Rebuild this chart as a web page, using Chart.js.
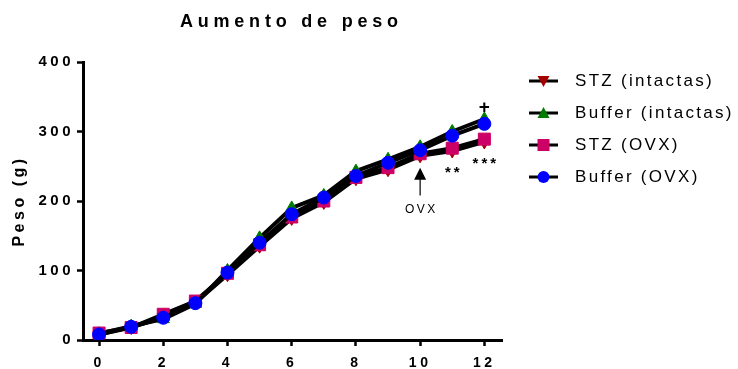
<!DOCTYPE html>
<html lang="es">
<head>
<meta charset="utf-8">
<title>Aumento de peso</title>
<script src="https://cdn.jsdelivr.net/npm/chart.js@4.4.1/dist/chart.umd.min.js"></script>
<style>
  html, body { margin: 0; padding: 0; background: #fff; }
  canvas { display: block; }
</style>
</head>
<body>
<canvas id="grafica" width="738" height="369"></canvas>
<script>
// datos (peso en g por semana)
const semanas = [0, 1, 2, 3, 4, 5, 6, 7, 8, 9, 10, 11, 12];
const ticksX = [0, 2, 4, 6, 8, 10, 12];
const ticksY = [0, 100, 200, 300, 400];

const stzIntactas    = [8, 18, 33, 54, 94, 135, 175, 198, 232, 245, 265, 272, 285];
const bufferIntactas = [9, 20, 30, 52, 100, 147, 190, 208, 243, 260, 278, 300, 318];
const stzOvx         = [10, 18, 37, 56, 96, 137, 177, 200, 234, 248, 268, 276, 289];
const bufferOvx      = [8, 19, 32, 53, 97, 140, 181, 205, 236, 255, 273, 294, 311];

const nombres = ["STZ (intactas)", "Buffer (intactas)", "STZ (OVX)", "Buffer (OVX)"];
const colores = ["#a50000", "#007a00", "#cc0066", "#0000ff"];

const fuente = '"Liberation Sans", Arial, sans-serif';

function serie(i, valores, estilo, radio, rotacion, orden) {
    return {
        label: nombres[i],
        data: semanas.map((s, k) => ({ x: s, y: valores[k] })),
        borderColor: '#000',
        borderWidth: 4,
        pointStyle: estilo,
        pointRotation: rotacion,
        pointRadius: radio,
        pointBackgroundColor: colores[i],
        pointBorderColor: colores[i],
        pointBorderWidth: 1,
        tension: 0,
        order: orden
    };
}

function textoEspaciado(ctx, texto, cx, cy, font, sp) {
    ctx.font = font;
    ctx.letterSpacing = sp + 'px';
    ctx.textAlign = 'left';
    const w = ctx.measureText(texto).width - sp;
    ctx.fillText(texto, cx - w / 2, cy);
}

function marcador(ctx, i, x, y) {
    ctx.fillStyle = colores[i];
    ctx.beginPath();
    if (i === 0) {
        ctx.moveTo(x - 6, y - 5); ctx.lineTo(x + 6, y - 5); ctx.lineTo(x, y + 6);
    } else if (i === 1) {
        ctx.moveTo(x - 6, y + 5); ctx.lineTo(x + 6, y + 5); ctx.lineTo(x, y - 6);
    } else if (i === 2) {
        ctx.rect(x - 6, y - 6, 12, 12);
    } else {
        ctx.arc(x, y, 6, 0, Math.PI * 2);
    }
    ctx.fill();
}

const extras = {
    id: 'extras',
    beforeDraw(chart) {
        chart.ctx.letterSpacing = '3.5px';
    },
    afterDraw(chart) {
        const ctx = chart.ctx;
        const sx = chart.scales.x, sy = chart.scales.y;
        ctx.save();
        ctx.fillStyle = '#000';
        ctx.textBaseline = 'middle';

        // titulo
        textoEspaciado(ctx, 'Aumento de peso', 289, 22, 'bold 18px ' + fuente, 4.8);

        // leyenda
        nombres.forEach((n, i) => {
            const yy = 81 + i * 32;
            ctx.strokeStyle = '#000';
            ctx.lineWidth = 3;
            ctx.beginPath();
            ctx.moveTo(529, yy); ctx.lineTo(558, yy);
            ctx.stroke();
            marcador(ctx, i, 543.5, yy);
            ctx.fillStyle = '#000';
            ctx.font = '17px ' + fuente;
            ctx.letterSpacing = '2.3px';
            ctx.textAlign = 'left';
            ctx.fillText(n, 575, yy);
        });

        // flecha OVX
        const ax = sx.getPixelForValue(10);
        const punta = sy.getPixelForValue(248);
        const cola = sy.getPixelForValue(208);
        ctx.beginPath();
        ctx.moveTo(ax, punta); ctx.lineTo(ax - 6, punta + 12); ctx.lineTo(ax + 6, punta + 12);
        ctx.closePath();
        ctx.fill();
        ctx.lineWidth = 1.2;
        ctx.beginPath();
        ctx.moveTo(ax, punta + 10); ctx.lineTo(ax, cola);
        ctx.stroke();
        textoEspaciado(ctx, 'OVX', ax, sy.getPixelForValue(188), '12px ' + fuente, 2.5);

        // significancia
        ctx.textBaseline = 'alphabetic';
        textoEspaciado(ctx, '**', sx.getPixelForValue(11), sy.getPixelForValue(234), 'bold 15px ' + fuente, 3);
        textoEspaciado(ctx, '***', sx.getPixelForValue(12), sy.getPixelForValue(248), 'bold 15px ' + fuente, 3);
        textoEspaciado(ctx, '+', sx.getPixelForValue(12), sy.getPixelForValue(327), 'bold 19px ' + fuente, 0);
        ctx.restore();
    }
};

new Chart(document.getElementById('grafica'), {
    type: 'line',
    data: {
        datasets: [
            serie(0, stzIntactas, 'triangle', 7, 180, 4),
            serie(1, bufferIntactas, 'triangle', 7, 0, 3),
            serie(2, stzOvx, 'rect', 8.5, 0, 2),
            serie(3, bufferOvx, 'circle', 6.5, 0, 1)
        ]
    },
    options: {
        responsive: false,
        animation: false,
        layout: { padding: { top: 62, right: 236, bottom: 0, left: 0 } },
        plugins: {
            legend: { display: false },
            tooltip: { enabled: false }
        },
        scales: {
            x: {
                type: 'linear',
                min: -0.5,
                max: 12.55,
                afterBuildTicks: s => { s.ticks = ticksX.map(v => ({ value: v })); },
                afterFit: s => { s.height = 29; },
                grid: { drawOnChartArea: false, drawTicks: true, tickLength: 6, tickWidth: 2.5, tickColor: '#000' },
                border: { display: true, color: '#000', width: 3 },
                ticks: { color: '#000', font: { family: fuente, size: 14, weight: 'bold' }, padding: 9, maxRotation: 0, autoSkip: false }
            },
            y: {
                min: 0,
                max: 400,
                afterBuildTicks: s => { s.ticks = ticksY.map(v => ({ value: v })); },
                afterFit: s => { s.width = 83; },
                grid: { drawOnChartArea: false, drawTicks: true, tickLength: 6, tickWidth: 2.5, tickColor: '#000' },
                border: { display: true, color: '#000', width: 3 },
                ticks: { color: '#000', font: { family: fuente, size: 15, weight: 'bold' }, padding: 3 },
                title: {
                    display: true,
                    text: 'Peso (g)',
                    color: '#000',
                    font: { family: fuente, size: 16, weight: 'bold' },
                    padding: { top: 10, bottom: 0 }
                }
            }
        }
    },
    plugins: [extras]
});
</script>
</body>
</html>
